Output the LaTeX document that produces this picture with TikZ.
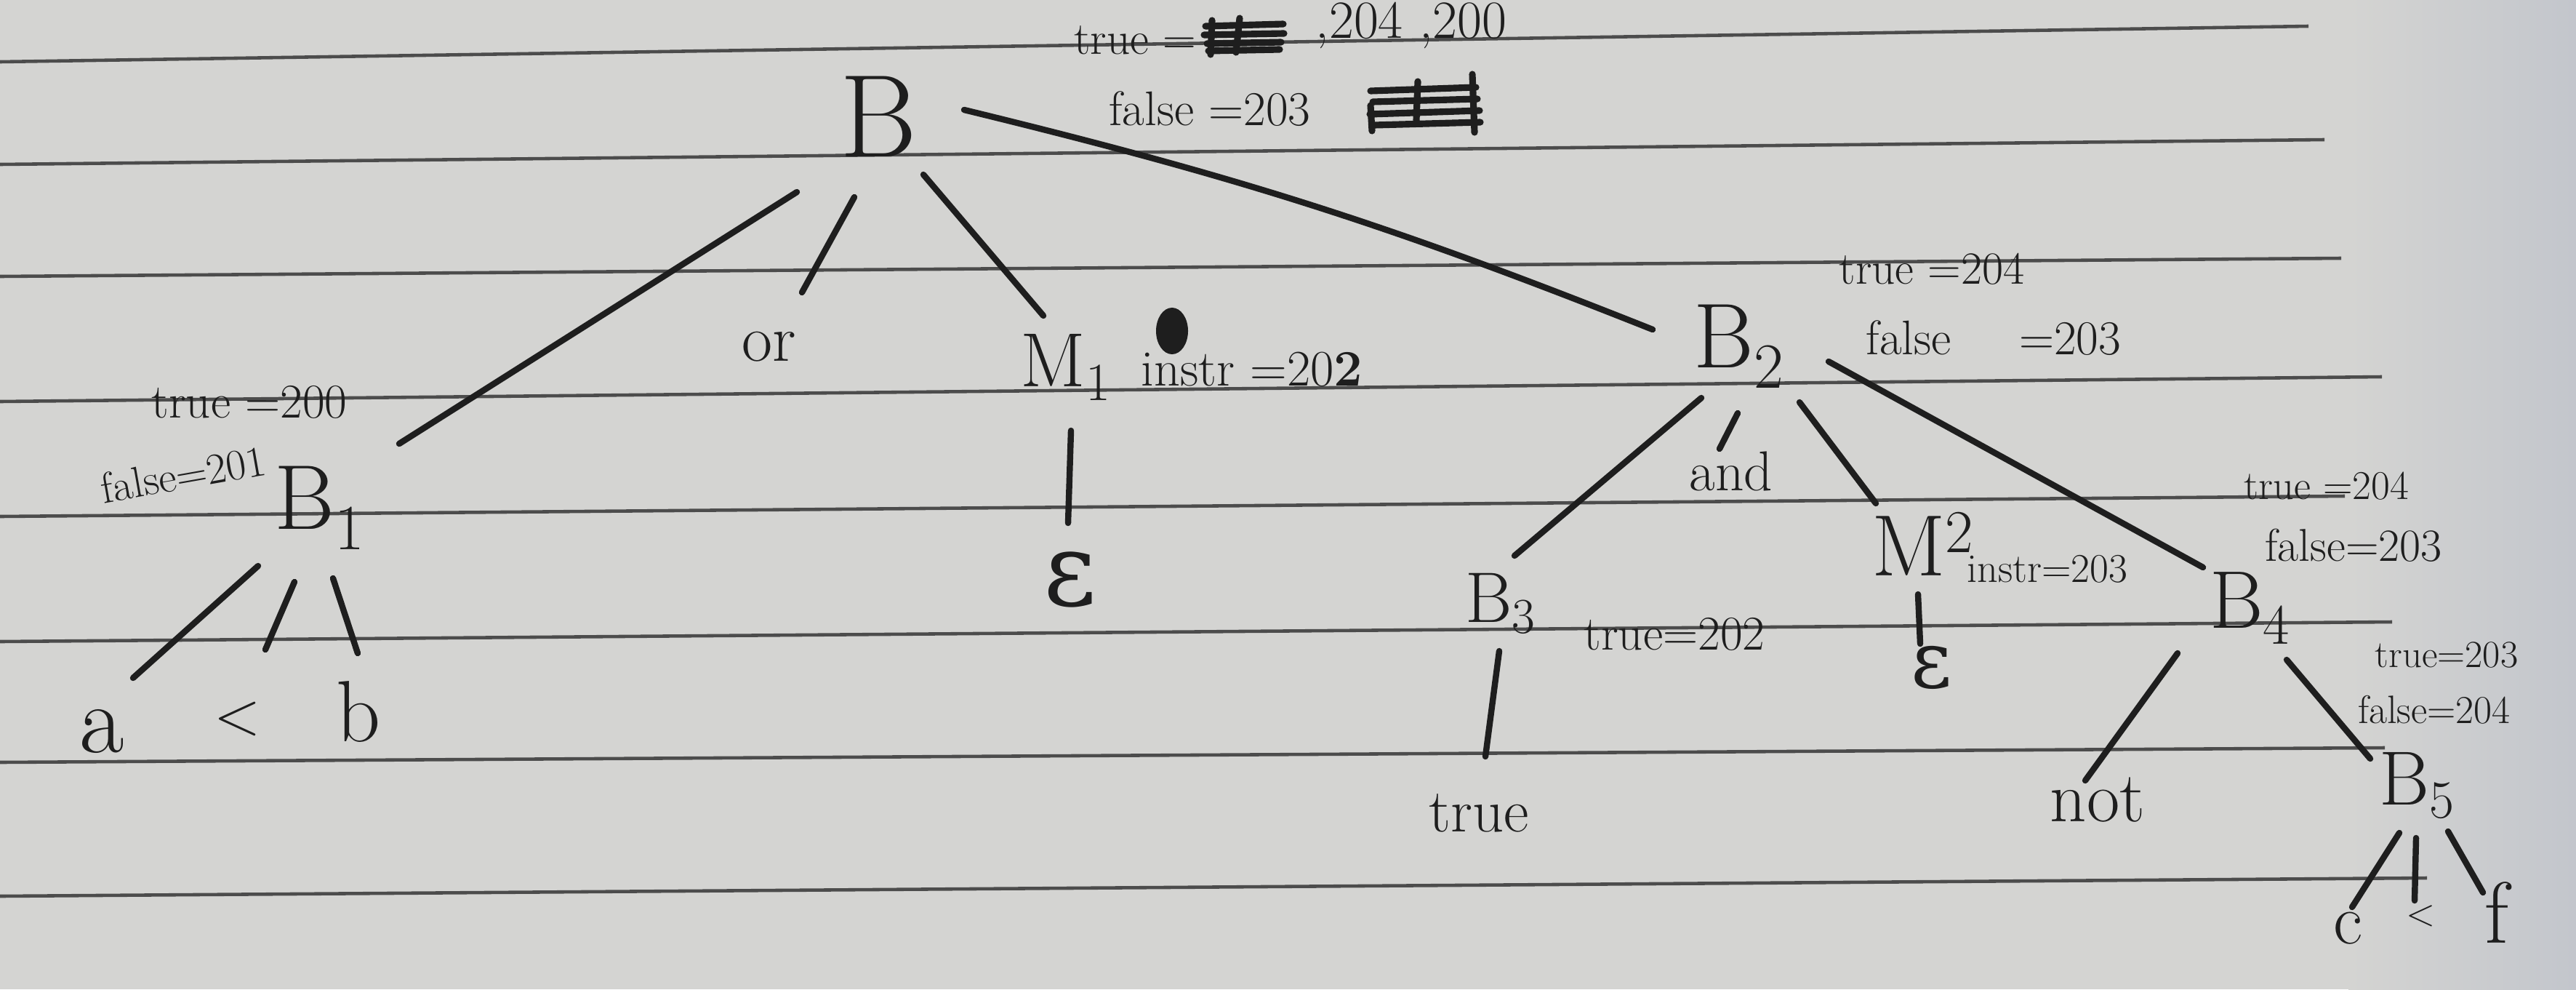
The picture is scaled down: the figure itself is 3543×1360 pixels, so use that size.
\documentclass[tikz,border=0pt]{standalone}
\usepackage{fontspec}
\newfontfamily\gkfont{DejaVu Serif}
\definecolor{paper}{HTML}{D4D4D2}
\definecolor{edgegrey}{HTML}{C3C6CC}
\definecolor{ink}{HTML}{1E1E1E}
\definecolor{rulecol}{HTML}{4C4C4C}
\newcommand\myfs[1]{\fontsize{#1}{#1}\selectfont}
\begin{document}
\begin{tikzpicture}[x=0.01cm,y=-0.01cm,
  txt/.style={inner sep=0pt, text=ink},
  lab/.style={txt, font={\myfs{19}}},
  edge/.style={draw=ink, line width=2.4pt, line cap=round},
  ruled/.style={draw=rulecol, line width=1.3pt},
  scribble/.style={draw=ink, line width=2.6pt, line cap=round, line join=round}]
\useasboundingbox (0,0) rectangle (3543,1360);
% paper
\fill[paper] (0,0) rectangle (3543,1360);
\shade[left color=paper, right color=edgegrey] (3230,0) rectangle (3543,1360);
% ruled lines
\draw[ruled] (0,85) -- (3175,36);
\draw[ruled] (0,226) -- (3197,192);
\draw[ruled] (0,380) -- (3220,355);
\draw[ruled] (0,552) -- (3276,518);
\draw[ruled] (0,710) -- (3225,682);
\draw[ruled] (0,882) -- (3290,855);
\draw[ruled] (0,1048) -- (3280,1028);
\draw[ruled] (0,1232) -- (3338,1207);

% root
\node[txt, font={\myfs{46}}] (B) at (1208,160) {B};
\node[txt, font={\myfs{18}}] (Btrue) at (1561,55) {true =};
\node[txt, font={\myfs{21}}] (Bvals) at (1941,35) {,204 ,200};
\node[lab] (Bfalse) at (1664,150) {false =203};
\draw[scribble] (1658,36) -- (1765,33) (1656,48) -- (1766,46) (1660,60) -- (1762,58)
  (1662,70) -- (1760,68) (1667,28) -- (1665,75) (1705,25) -- (1700,72);
\draw[scribble] (1885,125) -- (2030,120) (1888,140) -- (2032,136) (1884,157) -- (2035,152)
  (1890,172) -- (2036,168) (1885,145) -- (1887,180) (2025,102) -- (2028,182) (1950,112) -- (1948,165);

% B1 subtree
\node[txt, font={\myfs{36}}] (B1) at (440,698) {B\textsubscript{1}};
\node[txt, font={\myfs{19}}] (B1t) at (343,553) {true =200};
\node[txt, font={\myfs{17}}, rotate=10] (B1f) at (252,652) {false=201};
\node[txt, font={\myfs{38}}] (a) at (140,1005) {a};
\node[txt, font={\myfs{24}}] (lt1) at (327,988) {<};
\node[txt, font={\myfs{34}}] (b) at (493,978) {b};

% or, M1
\node[txt, font={\myfs{26}}] (or) at (1058,477) {or};
\node[txt, font={\myfs{30}}] (M1) at (1466,505) {M\textsubscript{1}};
\node[txt, font={\myfs{20}}] (M1i) at (1722,508) {instr =20\textbf{2}};
\fill[ink] (1612,455) ellipse [x radius=0.22cm, y radius=0.32cm];
\node[txt, font={\gkfont\myfs{40}}] (e1) at (1472,797) {ε};

% B2 subtree
\node[txt, font={\myfs{36}}] (B2) at (2392,476) {B\textsubscript{2}};
\node[txt, font={\myfs{18}}] (B2t) at (2657,370) {true =204};
\node[lab] (B2f) at (2742,465) {false\hspace{1.4em}=203};
\node[txt, font={\myfs{22}}] (and) at (2381,648) {and};
\node[txt, font={\myfs{28}}] (B3) at (2064,830) {B\textsubscript{3}};
\node[lab] (B3t) at (2303,872) {true=202};
\node[txt, font={\myfs{24}}] (tr) at (2034,1118) {true};
\node[txt, font={\myfs{34}}] (M2) at (2645,748) {M\textsuperscript{2}};
\node[txt, font={\myfs{16}}] (M2i) at (2816,782) {instr=203};
\node[txt, font={\gkfont\myfs{31}}] (e2) at (2657,918) {ε};
\node[txt, font={\myfs{32}}] (B4) at (3095,836) {B\textsubscript{4}};
\node[txt, font={\myfs{16}}] (B4t) at (3200,668) {true =204};
\node[txt, font={\myfs{18}}] (B4f) at (3237,750) {false=203};
\node[txt, font={\myfs{28}}] (not) at (2885,1100) {not};
\node[txt, font={\myfs{30}}] (B5) at (3325,1080) {B\textsubscript{5}};
\node[txt, font={\myfs{15}}] (B5t) at (3365,900) {true=203};
\node[txt, font={\myfs{15.5}}] (B5f) at (3348,976) {false=204};
\node[txt, font={\myfs{28}}] (c5) at (3229,1276) {c};
\node[txt, font={\myfs{15}}] (lt5) at (3330,1259) {<};
\node[txt, font={\myfs{34}}] (f5) at (3434,1255) {f};

% connectors
\draw[edge] ([shift={(-112,104)}]B.center) -- ([shift={(109,-88)}]B1.center);
\draw[edge] ([shift={(-33,111)}]B.center) -- ([shift={(45,-75)}]or.center);
\draw[edge] ([shift={(62,80)}]B.center) -- ([shift={(-31,-71)}]M1.center);
\draw[edge] ([shift={(118,-9)}]B.center) to[bend left=4] ([shift={(-119,-23)}]B2.center);
\draw[edge] ([shift={(-85,80)}]B1.center) -- ([shift={(43,-73)}]a.center);
\draw[edge] ([shift={(-35,102)}]B1.center) -- ([shift={(38,-95)}]lt1.center);
\draw[edge] ([shift={(18,97)}]B1.center) -- ([shift={(-1,-80)}]b.center);
\draw[edge] ([shift={(7,87)}]M1.center) -- ([shift={(-3,-78)}]e1.center);
\draw[edge] ([shift={(-52,71)}]B2.center) -- ([shift={(19,-66)}]B3.center);
\draw[edge] ([shift={(-2,92)}]B2.center) -- ([shift={(-16,-31)}]and.center);
\draw[edge] ([shift={(83,77)}]B2.center) -- ([shift={(-65,-56)}]M2.center);
\draw[edge] ([shift={(123,21)}]B2.center) -- ([shift={(-65,-56)}]B4.center);
\draw[edge] ([shift={(-2,65)}]B3.center) -- ([shift={(9,-78)}]tr.center);
\draw[edge] ([shift={(-7,69)}]M2.center) -- ([shift={(-16,-33)}]e2.center);
\draw[edge] ([shift={(-100,62)}]B4.center) -- ([shift={(-17,-27)}]not.center);
\draw[edge] ([shift={(50,71)}]B4.center) -- ([shift={(-65,-37)}]B5.center);
\draw[edge] ([shift={(-25,65)}]B5.center) -- ([shift={(6,-29)}]c5.center);
\draw[edge] ([shift={(-2,72)}]B5.center) -- ([shift={(-9,-21)}]lt5.center);
\draw[edge] ([shift={(42,63)}]B5.center) -- ([shift={(-19,-28)}]f5.center);
\end{tikzpicture}
\end{document}
